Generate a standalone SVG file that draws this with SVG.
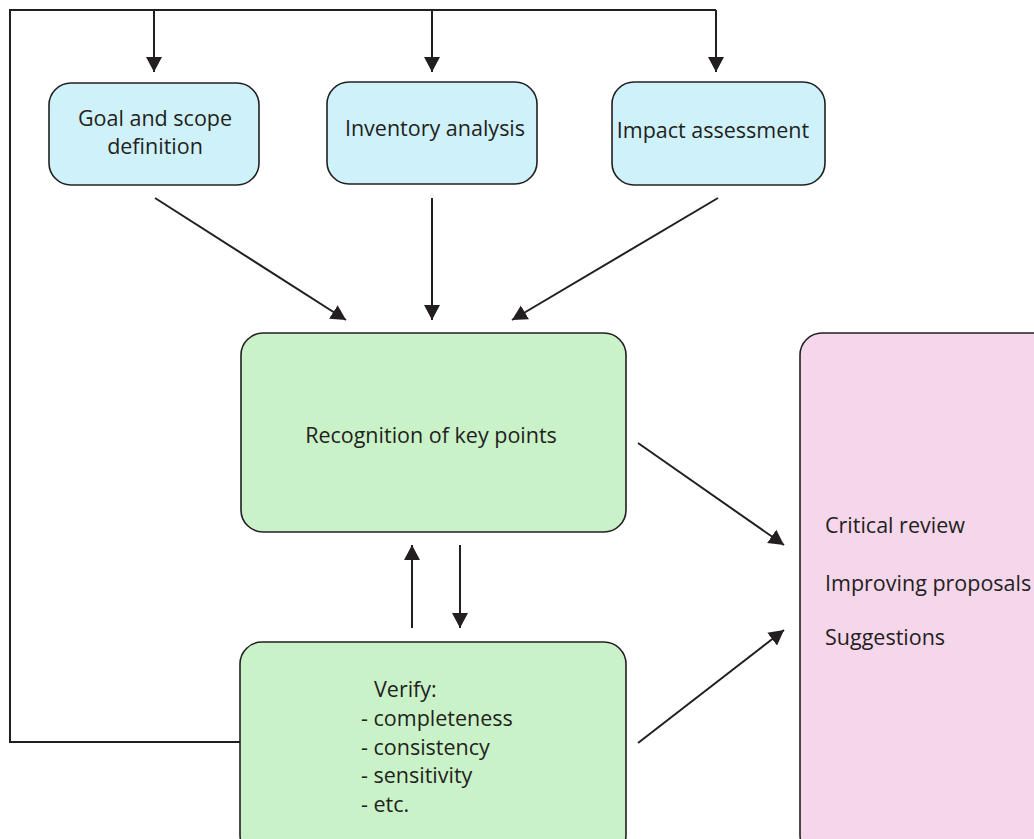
<svg xmlns="http://www.w3.org/2000/svg" width="1034" height="839" viewBox="0 0 1034 839">
  <style>
    .box { stroke: #231f20; stroke-width: 1.6; }
    .blue { fill: #cff1fa; }
    .green { fill: #c9f2c8; }
    .pink { fill: #f5d6eb; }
    .lbl { font-family: "Open Sans", "Noto Sans", sans-serif; font-size: 21.5px; fill: #231f20; }
    .wire { fill: none; stroke: #231f20; stroke-width: 2; }
  </style>
  <defs>
    <marker id="head" markerUnits="userSpaceOnUse" markerWidth="20" markerHeight="20" viewBox="0 0 20 20" refX="15" refY="10" orient="auto">
      <path d="M0,2 L15,10 L0,18 Z" fill="#231f20"/>
    </marker>
  </defs>
  <rect width="1034" height="839" fill="#ffffff"/>

  <g id="connectors">
    <!-- feedback loop from Verify back to the three phases -->
    <polyline class="wire" points="240,742 10,742 10,10 716,10"/>
    <line class="wire" x1="154" y1="10" x2="154" y2="72" marker-end="url(#head)"/>
    <line class="wire" x1="432" y1="10" x2="432" y2="72" marker-end="url(#head)"/>
    <line class="wire" x1="716" y1="10" x2="716" y2="72" marker-end="url(#head)"/>
    <!-- phases into recognition -->
    <line class="wire" x1="155" y1="198" x2="346" y2="320" marker-end="url(#head)"/>
    <line class="wire" x1="432" y1="198" x2="432" y2="320" marker-end="url(#head)"/>
    <line class="wire" x1="718" y1="198" x2="512" y2="320" marker-end="url(#head)"/>
    <!-- recognition <-> verify -->
    <line class="wire" x1="412" y1="628" x2="412" y2="545" marker-end="url(#head)"/>
    <line class="wire" x1="460" y1="545" x2="460" y2="628" marker-end="url(#head)"/>
    <!-- into review -->
    <line class="wire" x1="638" y1="443" x2="784" y2="545" marker-end="url(#head)"/>
    <line class="wire" x1="638" y1="743" x2="784" y2="630" marker-end="url(#head)"/>
  </g>

  <g id="goal">
    <rect class="box blue" x="49" y="83" width="210" height="102" rx="22"/>
    <text class="lbl" x="155" y="126" text-anchor="middle">Goal and scope</text>
    <text class="lbl" x="155" y="154" text-anchor="middle">definition</text>
  </g>
  <g id="inventory">
    <rect class="box blue" x="327" y="82" width="210" height="102" rx="22"/>
    <text class="lbl" x="435" y="136" text-anchor="middle">Inventory analysis</text>
  </g>
  <g id="impact">
    <rect class="box blue" x="612" y="82" width="213" height="103" rx="22"/>
    <text class="lbl" x="713" y="138" text-anchor="middle">Impact assessment</text>
  </g>
  <g id="recognition">
    <rect class="box green" x="241" y="333" width="385" height="199" rx="22"/>
    <text class="lbl" x="431" y="443" text-anchor="middle">Recognition of key points</text>
  </g>
  <g id="verify">
    <rect class="box green" x="240" y="642" width="386" height="215" rx="22"/>
    <text class="lbl" x="374" y="697">Verify:</text>
    <text class="lbl" x="361" y="726">- completeness</text>
    <text class="lbl" x="361" y="755">- consistency</text>
    <text class="lbl" x="361" y="783">- sensitivity</text>
    <text class="lbl" x="361" y="812">- etc.</text>
  </g>
  <g id="review">
    <rect class="box pink" x="800" y="333" width="260" height="524" rx="22"/>
    <text class="lbl" x="825" y="533">Critical review</text>
    <text class="lbl" x="825" y="591">Improving proposals</text>
    <text class="lbl" x="825" y="645">Suggestions</text>
  </g>
</svg>
